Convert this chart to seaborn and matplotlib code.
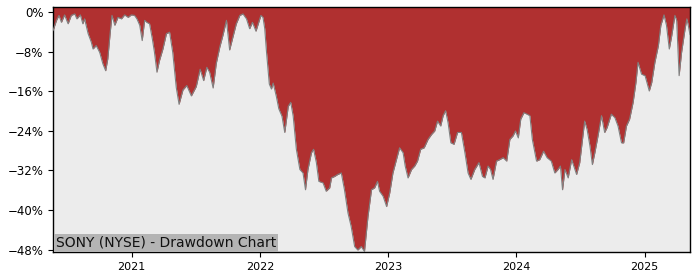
import matplotlib
matplotlib.use("Agg")
import matplotlib.pyplot as plt
import matplotlib.dates as mdates
from matplotlib.ticker import FuncFormatter
import seaborn as sns
import pandas as pd

dates = [
    "2020-05-22", "2020-06-01", "2020-06-08", "2020-06-15", "2020-06-24", "2020-07-04",
    "2020-07-13", "2020-07-23", "2020-07-29", "2020-08-08", "2020-08-15", "2020-08-20",
    "2020-08-30", "2020-09-08", "2020-09-13", "2020-09-22", "2020-10-02", "2020-10-11",
    "2020-10-19", "2020-10-25", "2020-11-01", "2020-11-06", "2020-11-14", "2020-11-23",
    "2020-12-03", "2020-12-12", "2020-12-22", "2020-12-31", "2021-01-09", "2021-01-16",
    "2021-01-24", "2021-01-31", "2021-02-07", "2021-02-13", "2021-02-21", "2021-03-01",
    "2021-03-07", "2021-03-14", "2021-03-21", "2021-03-31", "2021-04-10", "2021-04-19",
    "2021-04-28", "2021-05-08", "2021-05-16", "2021-05-27", "2021-06-07", "2021-06-20",
    "2021-07-04", "2021-07-15", "2021-07-25", "2021-08-03", "2021-08-11", "2021-08-21",
    "2021-08-30", "2021-09-09", "2021-09-18", "2021-09-28", "2021-10-07", "2021-10-17",
    "2021-10-26", "2021-11-05", "2021-11-14", "2021-11-24", "2021-12-03", "2021-12-11",
    "2021-12-21", "2022-01-04", "2022-01-10", "2022-01-15", "2022-01-20", "2022-01-28",
    "2022-02-03", "2022-02-08", "2022-02-17", "2022-02-24", "2022-03-05", "2022-03-13",
    "2022-03-23", "2022-03-30", "2022-04-06", "2022-04-15", "2022-04-25", "2022-05-04",
    "2022-05-11", "2022-05-18", "2022-05-28", "2022-06-03", "2022-06-11", "2022-06-18",
    "2022-06-30", "2022-07-09", "2022-07-19", "2022-07-24", "2022-08-02", "2022-08-11",
    "2022-08-21", "2022-08-30", "2022-09-09", "2022-09-18", "2022-09-28", "2022-10-07",
    "2022-10-17", "2022-10-26", "2022-11-05", "2022-11-15", "2022-11-24", "2022-12-02",
    "2022-12-08", "2022-12-18", "2022-12-28", "2023-01-06", "2023-01-15", "2023-01-25",
    "2023-02-03", "2023-02-13", "2023-02-19", "2023-02-27", "2023-03-09", "2023-03-18",
    "2023-03-26", "2023-04-04", "2023-04-14", "2023-04-25", "2023-05-05", "2023-05-14",
    "2023-05-22", "2023-05-31", "2023-06-07", "2023-06-14", "2023-06-21", "2023-06-29",
    "2023-07-08", "2023-07-18", "2023-07-29", "2023-08-08", "2023-08-17", "2023-08-25",
    "2023-09-05", "2023-09-17", "2023-09-27", "2023-10-04", "2023-10-13", "2023-10-20",
    "2023-10-27", "2023-11-06", "2023-11-15", "2023-11-25", "2023-12-05", "2023-12-14",
    "2023-12-23", "2023-12-30", "2024-01-07", "2024-01-14", "2024-01-23", "2024-02-01",
    "2024-02-09", "2024-02-16", "2024-02-28", "2024-03-08", "2024-03-19", "2024-03-29",
    "2024-04-10", "2024-04-20", "2024-04-29", "2024-05-06", "2024-05-12", "2024-05-19",
    "2024-05-28", "2024-06-07", "2024-06-13", "2024-06-21", "2024-06-30", "2024-07-14",
    "2024-07-21", "2024-07-29", "2024-08-05", "2024-08-12", "2024-08-21", "2024-08-31",
    "2024-09-09", "2024-09-16", "2024-09-28", "2024-10-08", "2024-10-17", "2024-10-27",
    "2024-11-02", "2024-11-10", "2024-11-19", "2024-11-29", "2024-12-07", "2024-12-13",
    "2024-12-23", "2025-01-02", "2025-01-14", "2025-01-21", "2025-01-30", "2025-02-09",
    "2025-02-16", "2025-02-25", "2025-03-04", "2025-03-12", "2025-03-19", "2025-03-28",
    "2025-04-02", "2025-04-09", "2025-04-16", "2025-04-26", "2025-05-01", "2025-05-05",
    "2025-05-10",
]

drawdown_pct = [
    -3.7, -1.6, -0.6, -2.0, -0.5, -2.3,
    -0.6, -0.3, -1.3, -0.5, -2.3, -1.3,
    -4.3, -6.0, -7.4, -6.7, -8.1, -10.4,
    -11.8, -9.4, -4.0, -0.6, -2.6, -1.0,
    -1.3, -0.5, -1.0, -0.5, -0.6, -1.3,
    -2.6, -5.7, -1.6, -2.0, -2.3, -5.4,
    -8.1, -12.1, -9.8, -7.4, -4.3, -4.0,
    -8.1, -15.2, -18.6, -15.7, -14.8, -16.9,
    -15.0, -11.5, -13.8, -11.1, -12.1, -15.3,
    -10.3, -7.0, -4.6, -1.6, -7.6, -4.8,
    -2.3, -0.6, -0.3, -1.3, -3.3, -2.0,
    -3.8, -0.6, -1.0, -3.3, -8.0, -14.5,
    -15.5, -14.3, -17.0, -19.5, -21.0, -24.3,
    -19.0, -18.2, -21.0, -27.7, -31.8, -32.5,
    -35.9, -31.8, -28.4, -27.7, -30.4, -34.2,
    -34.5, -36.2, -35.5, -33.5, -33.2, -32.8,
    -32.5, -35.9, -40.6, -43.3, -47.4, -48.1,
    -47.4, -48.4, -41.3, -35.9, -35.5, -34.2,
    -36.2, -37.2, -39.3, -36.5, -32.5, -29.8,
    -27.4, -28.4, -31.1, -33.5, -31.8, -31.1,
    -30.1, -27.7, -27.4, -25.7, -24.7, -24.0,
    -22.0, -23.0, -20.9, -19.9, -22.3, -26.4,
    -26.7, -24.3, -24.3, -28.4, -32.5, -33.8,
    -31.8, -30.4, -33.2, -33.5, -31.1, -31.8,
    -33.8, -30.1, -29.8, -29.4, -30.1, -25.7,
    -25.0, -24.0, -25.4, -21.6, -20.3, -20.6,
    -20.9, -25.7, -30.1, -29.8, -28.1, -29.4,
    -30.1, -32.5, -31.8, -31.1, -35.9, -31.8,
    -33.5, -29.8, -31.1, -32.8, -30.4, -22.0,
    -23.7, -27.0, -30.8, -28.4, -25.0, -20.9,
    -24.3, -23.3, -20.6, -21.3, -23.0, -26.4,
    -26.4, -23.0, -21.6, -18.2, -14.2, -10.1,
    -12.5, -12.8, -15.9, -14.2, -10.1, -6.7,
    -2.6, -0.5, -2.6, -7.4, -4.7, -0.6,
    -1.6, -12.8, -8.1, -3.3, -1.3, -2.6,
    -4.5,
]

y_ticks = [0, -8, -16, -24, -32, -40, -48]
title_text = "SONY (NYSE) - Drawdown Chart"

df = pd.DataFrame({"date": pd.to_datetime(dates), "dd": drawdown_pct})

sns.set_style("ticks")
plt.rcParams["font.family"] = ["DejaVu Sans"]

fig = plt.figure(figsize=(7, 2.8), dpi=100)
ax = fig.add_axes([53 / 700, 1 - 252 / 280, (690 - 53) / 700, (252 - 7) / 280])
ax.set_facecolor("#ececec")

ymin, ymax = -48.5, 1.1
ax.fill_between(df["date"], df["dd"], ymax, color="#b03030", linewidth=0, zorder=2)
sns.lineplot(data=df, x="date", y="dd", ax=ax, color="#808080", linewidth=0.8, zorder=3)

ax.set_xlim(df["date"].min(), df["date"].max())
ax.set_ylim(ymin, ymax)
ax.set_yticks(y_ticks)
ax.yaxis.set_major_formatter(
    FuncFormatter(lambda v, p: f"{v:.0f}%".replace("-", "\u2212")))
ax.xaxis.set_major_locator(mdates.YearLocator())
ax.xaxis.set_major_formatter(mdates.DateFormatter("%Y"))
ax.set_xlabel("")
ax.set_ylabel("")
ax.tick_params(axis="x", labelsize=8, length=3.5, width=0.8, colors="black")
ax.tick_params(axis="y", labelsize=8.5, length=3.5, width=0.8, colors="black")
for s in ax.spines.values():
    s.set_visible(True)
    s.set_color("black")
    s.set_linewidth(1.0)

ax.annotate(title_text, xy=(0, 0), xycoords="axes fraction", xytext=(2, 1.5),
            textcoords="offset points", ha="left", va="bottom", fontsize=10,
            color="#111111", zorder=5,
            bbox=dict(boxstyle="square,pad=0.15", fc="#b4b4b4", ec="none"))

fig.savefig("out.png", dpi=100)
